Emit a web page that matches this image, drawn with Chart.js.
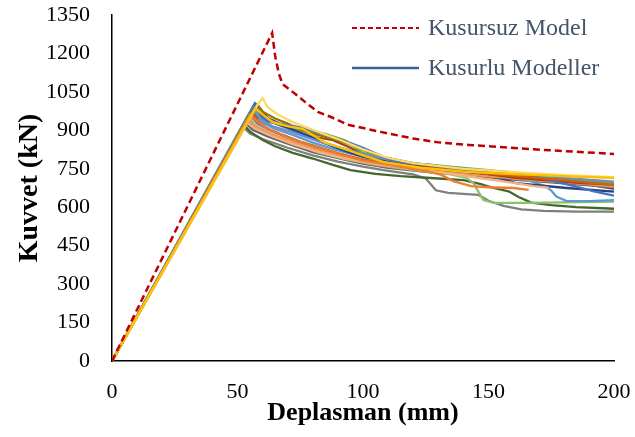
<!DOCTYPE html>
<html>
<head>
<meta charset="utf-8">
<script src="https://cdn.jsdelivr.net/npm/chart.js@4.4.1/dist/chart.umd.min.js"></script>
<style>
  html, body { margin: 0; padding: 0; background: #fff; }
  canvas { display: block; }
</style>
</head>
<body>
<canvas id="kuvvetChart" width="635" height="437"></canvas>
<script>
const fontAile = '"Liberation Serif", "Times New Roman", serif';

// eksen ayarlari
const xEtiketi = 'Deplasman (mm)';
const yEtiketi = 'Kuvvet (kN)';
const xTicks = [0, 50, 100, 150, 200];
const yTicks = [0, 150, 300, 450, 600, 750, 900, 1050, 1200, 1350];
const seriAdlari = ['Kusursuz Model', 'Kusurlu Modeller'];

// kusursuz model (deplasman, kuvvet)
const kusursuzModel = [[0,0],[63.8,1280],[65,1190],[66.5,1120],[68,1080],[72,1050],[77,1010],[82,972],[87,953],[94,922],[107,894],[120,868],[130,853],[142,843],[168,826],[200,808]];

// kusurlu modeller
const km01 = [[0,0],[56.5,998],[58,975],[60,950],[63,935],[68,915],[75,890],[82,860],[90,830],[100,800],[110,780],[120,765],[135,748],[150,735],[165,722],[180,705],[200,672]];
const km02 = [[0,0],[54,940],[57,905],[62,885],[70,860],[80,830],[90,800],[100,780],[110,765],[120,752],[135,740],[150,725],[170,710],[185,698],[200,688]];
const km03 = [[0,0],[52,915],[55,888],[60,866],[70,832],[80,802],[90,778],[100,758],[110,742],[120,728],[125,712],[127,690],[129,666],[134,656],[146,648],[150,625],[156,605],[163,592],[172,586],[185,583],[200,583]];
const km04 = [[0,0],[52.5,922],[55,895],[60,862],[65,838],[72,812],[80,790],[88,765],[95,745],[105,730],[115,721],[127,714],[140,706],[147,690],[152,675],[158,662],[162,640],[167,618],[175,608],[185,600],[200,594]];
const km05 = [[0,0],[55,955],[58,918],[63,898],[72,865],[82,828],[92,800],[102,785],[115,768],[130,752],[150,737],[170,720],[200,698]];
const km06 = [[0,0],[53,932],[56,902],[62,876],[70,848],[80,815],[90,792],[100,770],[110,754],[125,738],[140,725],[160,708],[180,693],[200,678]];
const km07 = [[0,0],[55,965],[58,928],[63,902],[70,872],[80,838],[90,805],[100,782],[110,767],[125,750],[145,734],[165,717],[185,701],[200,684]];
const km08 = [[0,0],[54,956],[57,915],[63,885],[72,850],[82,815],[92,790],[105,765],[120,745],[135,728],[141,715],[144,695],[146,660],[148,628],[152,617],[165,617],[180,619],[200,622]];
const km09 = [[0,0],[56,978],[59,935],[65,905],[72,882],[80,852],[90,822],[100,797],[110,777],[120,762],[140,742],[160,722],[168,698],[173,680],[175,665],[177,642],[181,625],[190,624],[200,628]];
const km10 = [[0,0],[57,1005],[59,985],[62,948],[70,912],[80,872],[88,838],[95,812],[100,797],[110,777],[120,763],[140,742],[150,725],[161,694],[180,676],[200,661]];
const km11 = [[0,0],[54,946],[57,916],[62,892],[70,862],[80,829],[90,802],[100,777],[110,760],[125,742],[145,725],[165,708],[185,693],[200,680]];
const km12 = [[0,0],[53,936],[57,906],[63,880],[72,846],[82,816],[92,792],[102,774],[115,756],[130,738],[145,716],[160,695],[168,682],[174,676]];
const km13 = [[0,0],[56,975],[58,952],[62,936],[68,921],[75,905],[82,872],[88,862],[95,832],[100,808],[110,792],[125,762],[140,742],[160,716],[187,694],[200,688]];
const km14 = [[0,0],[58,1000],[60,972],[65,946],[70,926],[75,902],[82,882],[90,862],[98,832],[105,802],[115,778],[130,757],[150,736],[170,716],[200,691]];
const km15 = [[0,0],[56,990],[60,952],[66,926],[75,906],[85,886],[93,860],[97,832],[100,812],[110,787],[120,772],[140,753],[160,736],[180,712],[200,695]];
const km16 = [[0,0],[56,982],[59,946],[64,916],[72,892],[82,858],[92,830],[102,802],[112,782],[125,766],[145,746],[165,729],[185,711],[200,700]];
const km17 = [[0,0],[57,1002],[59,962],[62,938],[67,926],[75,912],[85,882],[95,850],[100,832],[107,802],[112,780],[120,770],[127,765],[135,753],[143,741],[155,731],[165,722],[170,716],[178,697],[185,680],[192,662],[200,645]];
const km18 = [[0,0],[56,970],[58,936],[62,906],[68,882],[75,856],[82,836],[90,811],[100,786],[110,770],[125,752],[145,735],[165,718],[185,701],[200,686]];
const km19 = [[0,0],[55,962],[58,932],[62,907],[70,872],[80,838],[90,808],[100,782],[110,766],[120,749],[126,739],[131,727],[136,702],[143,682],[150,678],[160,675],[166,668]];
const km20 = [[0,0],[58,1000],[60,1026],[62,990],[66,962],[72,932],[80,902],[90,866],[100,826],[110,792],[120,772],[140,750],[160,737],[180,725],[200,717]];
const km21 = [[0,0],[57,986],[60,962],[64,932],[70,916],[76,906],[80,882],[85,852],[90,836],[100,802],[108,777],[115,766],[123,754],[140,739],[160,729],[180,721],[200,714]];

const kusurluModeller = [km01, km02, km03, km04, km05, km06, km07, km08, km09, km10, km11, km12, km13, km14, km15, km16, km17, km18, km19, km20, km21];
const kusurluRenkler = ['#3e5f96', '#a5a5a5', '#7f7f7f', '#43682b', '#b7b7b7', '#636363', '#255e91', '#8cc168', '#5b9bd5', '#264478', '#f1975a', '#f4b183', '#9e480e', '#997300', '#70ad47', '#698ed0', '#4472c4', '#d26012', '#ed7d31', '#ffd966', '#ffc000'];

const noktalar = arr => arr.map(p => ({ x: p[0], y: p[1] }));

const datasets = [{
    label: seriAdlari[0],
    data: noktalar(kusursuzModel),
    borderColor: '#c00000',
    borderWidth: 2.5,
    borderDash: [7, 4],
    order: 0
}];

// sonraki seriler ustte cizilsin
kusurluModeller.forEach((m, i) => {
    datasets.push({
        label: i === 0 ? seriAdlari[1] : '',
        data: noktalar(m),
        borderColor: kusurluRenkler[i],
        borderWidth: 2.3,
        order: kusurluModeller.length - i
    });
});

// sag ustteki aciklama
const aciklama = {
    id: 'aciklama',
    afterDatasetsDraw(chart) {
        const ctx = chart.ctx;
        const { left } = chart.chartArea;
        [0, 1].forEach(i => {
            const ds = chart.data.datasets[i];
            const y = 28 + i * 40;
            ctx.save();
            ctx.strokeStyle = ds.borderColor;
            ctx.lineWidth = i === 0 ? 2.2 : 2.5;
            ctx.setLineDash(ds.borderDash ? [5, 3] : []);
            ctx.beginPath();
            ctx.moveTo(left + 240, y);
            ctx.lineTo(left + 307, y);
            ctx.stroke();
            ctx.setLineDash([]);
            ctx.fillStyle = '#44546a';
            ctx.font = '24px ' + fontAile;
            ctx.textBaseline = 'middle';
            ctx.fillText(ds.label, left + 316, y + 1);
            ctx.restore();
        });
    }
};

new Chart(document.querySelector('#kuvvetChart'), {
    type: 'scatter',
    data: { datasets },
    options: {
        responsive: false,
        animation: false,
        showLine: true,
        layout: { padding: { top: 15, right: 21, bottom: 0, left: 0 } },
        elements: {
            point: { radius: 0, hoverRadius: 0 },
            line: { tension: 0, fill: false }
        },
        plugins: {
            legend: { display: false },
            tooltip: { enabled: false }
        },
        scales: {
            x: {
                type: 'linear',
                min: xTicks[0],
                max: xTicks[xTicks.length - 1],
                afterBuildTicks: s => { s.ticks = xTicks.map(v => ({ value: v })); },
                afterFit: s => {
                    s.height = 76;
                    s.paddingLeft = 0;
                    s.paddingRight = 18;
                },
                grid: { display: false, drawTicks: false },
                border: { color: '#000', width: 1.5 },
                ticks: { color: '#000', padding: 18, font: { family: fontAile, size: 22 }, callback: v => String(v) },
                title: {
                    display: true,
                    text: xEtiketi,
                    color: '#000',
                    font: { family: fontAile, size: 26, weight: 'bold' },
                    padding: { top: 0, bottom: 8 }
                }
            },
            y: {
                min: yTicks[0],
                max: yTicks[yTicks.length - 1],
                afterBuildTicks: s => { s.ticks = yTicks.map(v => ({ value: v })); },
                afterFit: s => {
                    s.width = 112;
                    s.paddingTop = 13;
                    s.paddingBottom = 13;
                },
                grid: { display: false, drawTicks: false },
                border: { color: '#000', width: 1.5 },
                ticks: { color: '#000', padding: 22, font: { family: fontAile, size: 22 }, callback: v => String(v) },
                title: {
                    display: true,
                    text: yEtiketi,
                    color: '#000',
                    font: { family: fontAile, size: 28, weight: 'bold' },
                    padding: { top: 13, bottom: 0 }
                }
            }
        }
    },
    plugins: [aciklama]
});
</script>
</body>
</html>
